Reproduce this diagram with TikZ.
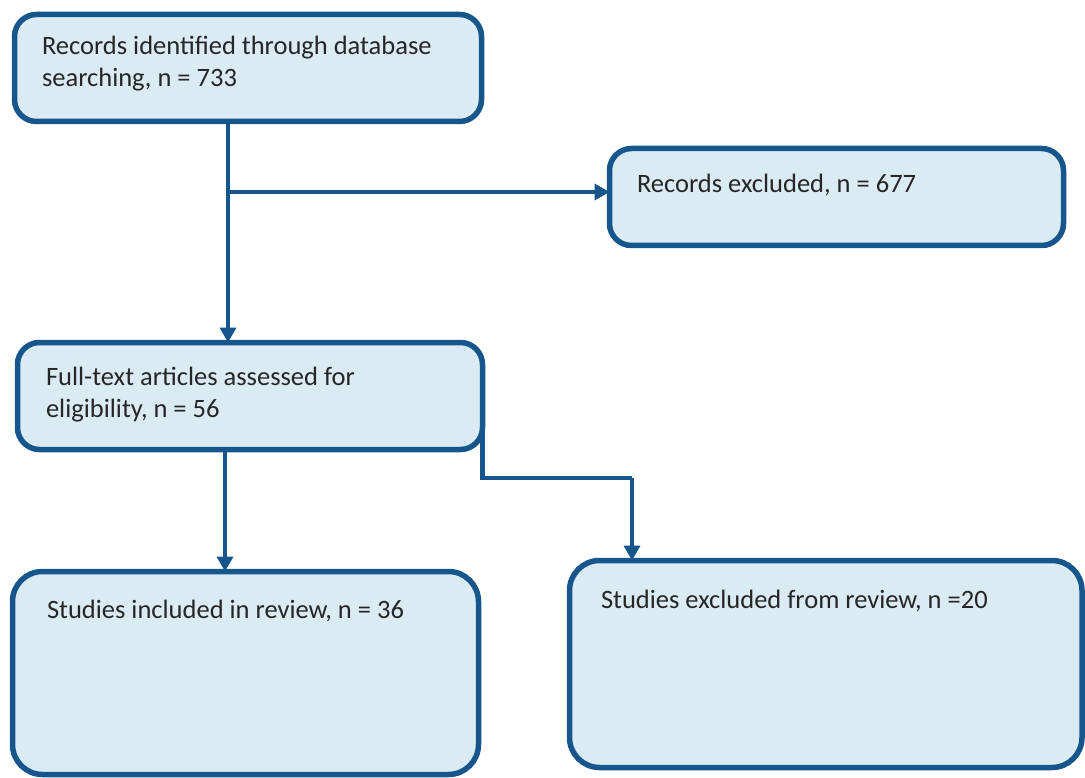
\documentclass[tikz,border=0pt]{standalone}
\usepackage{fontspec}
\setmainfont{Carlito}
\usetikzlibrary{arrows.meta}
\definecolor{edge}{RGB}{22,86,140}
\definecolor{boxfill}{RGB}{218,235,243}
\tikzset{
  flowbox/.style={draw=edge, fill=boxfill, line width=5.5pt, rounded corners=22pt,
    rectangle, inner sep=0pt, outer sep=0pt, anchor=north west},
  bigbox/.style={flowbox, rounded corners=30pt},
  label/.style={anchor=base west, inner sep=0pt, outer sep=0pt,
    font=\fontsize{26.5}{32}\selectfont, text=black!85},
  conn/.style={draw=edge, line width=4.5pt, -{Triangle[width=16pt,length=15pt]}},
  plain/.style={draw=edge, line width=4.5pt}
}
\begin{document}
\begin{tikzpicture}[x=1pt,y=-1pt]
\useasboundingbox (0,0) rectangle (1085,778);
% boxes
\node[flowbox, minimum width=467pt, minimum height=107pt] (b1) at (14.5,14.5) {};
\node[flowbox, minimum width=454pt, minimum height=97pt] (b2) at (609.5,148.5) {};
\node[flowbox, minimum width=465pt, minimum height=107pt] (b3) at (17.5,342.5) {};
\node[bigbox, minimum width=466pt, minimum height=203pt] (b4) at (12.5,571.5) {};
\node[bigbox, minimum width=512.5pt, minimum height=207pt] (b5) at (569.5,560.5) {};
% texts
\node[label] (t1a) at (42,55) {Records identified through database};
\node[label] (t1b) at (42,87) {searching, n = 733};
\node[label] (t2) at (637,193) {Records excluded, n = 677};
\node[label] (t3a) at (46,385) {Full-text articles assessed for};
\node[label] (t3b) at (46,417) {eligibility, n = 56};
\node[label] (t4) at (47,618) {Studies included in review, n = 36};
\node[label] (t5) at (601,608) {Studies excluded from review, n =20};
% connector points
\coordinate (c1) at (228,192);
\coordinate (c2) at (225,500);
\coordinate (c3) at (482.5,478);
\coordinate (c4) at (632,478);
% connectors
\draw[conn] (b1.south -| c1) -- (b3.north -| c1);
\draw[conn] (c1) -- (c1 -| b2.west);
\draw[conn] (b3.south -| c2) -- (b4.north -| c2);
\draw[plain] (b3.east) -- (c3) -- (c4);
\draw[conn] (c4) -- (c4 |- b5.north);
\end{tikzpicture}
\end{document}
